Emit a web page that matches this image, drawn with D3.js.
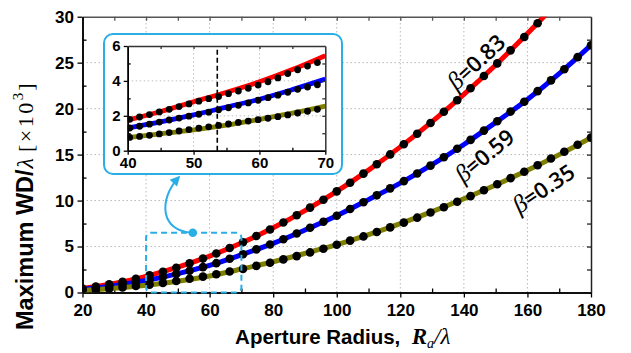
<!DOCTYPE html>
<html><head><meta charset="utf-8">
<script src="https://cdn.jsdelivr.net/npm/d3@7/dist/d3.min.js"></script>
<style>body{margin:0;background:#fff}svg{display:block}</style>
</head><body>
<svg id="c" width="631" height="353"></svg>
<script>
// ---------- data ----------
const xTicks = [20, 40, 60, 80, 100, 120, 140, 160, 180];
const yTicks = [0, 5, 10, 15, 20, 25, 30];
const insetXTicks = [40, 50, 60, 70];
const insetYTicks = [0, 2, 4, 6];

const lineX = [20, 30, 40, 50, 60, 70, 80, 90, 100, 110, 120, 130, 140, 150, 160, 170, 180];
const redLine   = [0.44, 0.99, 1.76, 2.75, 3.96, 5.39, 7.04, 8.91, 11.0, 13.31, 15.84, 18.59, 21.56, 24.75, 28.16, 31.79, 35.64];
const blueLine  = [0.35, 0.75, 1.3, 2.05, 2.95, 4.1, 5.35, 6.8, 8.35, 10.1, 11.9, 13.9, 16.1, 18.5, 21.0, 23.8, 26.9];
const oliveLine = [0.2, 0.45, 0.78, 1.22, 1.8, 2.55, 3.35, 4.25, 5.2, 6.3, 7.5, 8.8, 10.2, 11.7, 13.3, 15.0, 16.85];

const dotX = [20, 24.2, 28.4, 32.6, 36.8, 41.1, 45.3, 49.5, 53.7, 57.9, 62.1, 66.3, 70.5, 74.7, 79.0, 83.2, 87.4, 91.6, 95.8, 100,
  104.2, 108.4, 112.6, 116.8, 121.1, 125.3, 129.5, 133.7, 137.9, 142.1, 146.3, 150.5, 154.7, 159.0, 163.2, 167.4, 171.6, 175.8, 180];
const redDots = [0.44, 0.64, 0.89, 1.17, 1.49, 1.86, 2.26, 2.70, 3.17, 3.69, 4.24, 4.84, 5.47, 6.14, 6.86, 7.61, 8.40, 9.23, 10.09, 11.0,
  11.94, 12.93, 13.95, 15.02, 16.12, 17.26, 18.44, 19.66, 20.91, 22.21, 23.55, 24.92, 26.34, 27.79, 29.28, 30.8, 32.4, 34.0, 35.6];
const blueDots = [0.35, 0.52, 0.69, 0.89, 1.12, 1.38, 1.68, 2.01, 2.37, 2.76, 3.19, 3.67, 4.16, 4.69, 5.22, 5.80, 6.42, 7.04, 7.70, 8.35,
  9.08, 9.82, 10.57, 11.33, 12.11, 12.95, 13.8, 14.71, 15.64, 16.6, 17.61, 18.62, 19.68, 20.75, 21.9, 23.07, 24.28, 25.6, 26.9];
const oliveDots = [0.21, 0.31, 0.42, 0.55, 0.70, 0.86, 1.05, 1.25, 1.49, 1.73, 1.99, 2.28, 2.57, 2.9, 3.24, 3.6, 3.96, 4.36, 4.76, 5.2,
  5.64, 6.1, 6.58, 7.08, 7.6, 8.14, 8.7, 9.28, 9.87, 10.48, 11.12, 11.77, 12.44, 13.13, 13.84, 14.57, 15.31, 16.07, 16.85];

const insetLineX = [40, 45, 50, 55, 60, 65, 70];
const insetRedLine   = [1.75, 2.25, 2.8, 3.35, 3.95, 4.65, 5.45];
const insetBlueLine  = [1.3, 1.65, 2.05, 2.5, 2.95, 3.5, 4.1];
const insetOliveLine = [0.75, 0.97, 1.2, 1.47, 1.8, 2.15, 2.55];
const insetDotX = [40.3, 41.8, 43.3, 44.8, 46.3, 47.8, 49.3, 50.8, 52.3, 53.8, 55.3, 56.8, 58.3, 59.8, 61.3, 62.8, 64.3, 65.8, 67.3, 68.8];
const insetRedDots   = [1.80, 1.93, 2.07, 2.22, 2.37, 2.53, 2.68, 2.84, 2.98, 3.10, 3.27, 3.42, 3.58, 3.76, 3.95, 4.17, 4.42, 4.64, 4.85, 5.05];
const insetBlueDots  = [1.30, 1.40, 1.52, 1.64, 1.76, 1.87, 1.98, 2.09, 2.21, 2.34, 2.46, 2.60, 2.74, 2.89, 3.04, 3.18, 3.35, 3.52, 3.65, 3.78];
const insetOliveDots = [0.76, 0.82, 0.88, 0.96, 1.04, 1.13, 1.21, 1.29, 1.37, 1.45, 1.53, 1.62, 1.70, 1.78, 1.86, 1.95, 2.05, 2.16, 2.26, 2.37];
const insetMarkerX = 53.6;

const seriesNames = ["0.83", "0.59", "0.35"];
const seriesColors = ["#ff0000", "#0000ff", "#808000"];

// ---------- drawing ----------
const svg = d3.select("#c");
const SANS = "'Liberation Sans', Arial, sans-serif";
const SERIF = "'Liberation Serif', 'Times New Roman', serif";
const x = d3.scaleLinear([20, 180], [82.5, 591]);
const y = d3.scaleLinear([0, 30], [292.5, 16.7]);

const defs = svg.append("defs");
defs.append("clipPath").attr("id", "clipMain").append("rect")
  .attr("x", x(20)).attr("y", y(30)).attr("width", x(180) - x(20)).attr("height", y(0) - y(30));

const grid = svg.append("g").attr("stroke", "#b8b8b8").attr("stroke-width", 1).attr("stroke-dasharray", "1.5,2.5");
xTicks.slice(1, -1).forEach(v => grid.append("line").attr("x1", x(v)).attr("x2", x(v)).attr("y1", y(0)).attr("y2", y(30)));
yTicks.slice(1, -1).forEach(v => grid.append("line").attr("x1", x(20)).attr("x2", x(180)).attr("y1", y(v)).attr("y2", y(v)));

function styleAxis(g, color) {
  g.select(".domain").attr("stroke", color).attr("stroke-width", 1.5);
  g.selectAll(".tick line").attr("stroke", color).attr("stroke-width", 1.3);
  g.selectAll("text").attr("font-family", SANS).attr("font-weight", "bold").attr("fill", "#000");
}
const minorX = d3.range(30, 180, 20);
const minorY = d3.range(2.5, 30, 5);

// main axes
let g = svg.append("g").attr("transform", `translate(0,${y(0)})`)
  .call(d3.axisBottom(x).tickValues(minorX).tickSize(-4).tickSizeOuter(0).tickFormat(""));
styleAxis(g, "#000");
g = svg.append("g").attr("transform", `translate(0,${y(0)})`)
  .call(d3.axisBottom(x).tickValues(xTicks).tickSize(5).tickPadding(6).tickSizeOuter(0));
styleAxis(g, "#000"); g.selectAll("text").attr("font-size", 17);
g = svg.append("g").attr("transform", `translate(0,${y(30)})`)
  .call(d3.axisTop(x).tickValues(d3.range(30, 180, 10)).tickSize(-4).tickSizeOuter(0).tickFormat(""));
styleAxis(g, "#555");
g = svg.append("g").attr("transform", `translate(${x(180)},0)`)
  .call(d3.axisRight(y).tickValues(d3.range(2.5, 30, 2.5)).tickSize(-4).tickSizeOuter(0).tickFormat(""));
styleAxis(g, "#222");
g = svg.append("g").attr("transform", `translate(${x(20)},0)`)
  .call(d3.axisLeft(y).tickValues(minorY).tickSize(-4).tickSizeOuter(0).tickFormat(""));
styleAxis(g, "#000");
g = svg.append("g").attr("transform", `translate(${x(20)},0)`)
  .call(d3.axisLeft(y).tickValues(yTicks).tickSize(5).tickPadding(3.5).tickSizeOuter(0));
styleAxis(g, "#000"); g.selectAll("text").attr("font-size", 17);

// series
const mainG = svg.append("g").attr("clip-path", "url(#clipMain)");
const lines = [redLine, blueLine, oliveLine];
const dots = [redDots, blueDots, oliveDots];
const lineGen = (xs, sx, sy) => d3.line().x((d, i) => sx(xs[i])).y(d => sy(d)).curve(d3.curveCatmullRom);
lines.forEach((vals, s) => {
  mainG.append("path").datum(vals).attr("d", lineGen(lineX, x, y))
    .attr("fill", "none").attr("stroke", seriesColors[s]).attr("stroke-width", 5);
});
dots.forEach(vals => {
  mainG.selectAll(null).data(vals).enter().append("circle")
    .attr("cx", (d, i) => x(dotX[i])).attr("cy", d => y(d)).attr("r", 4.3).attr("fill", "#000");
});

// zoom rectangle annotation + connector
const cyan = "#2aaee6";
svg.append("rect").attr("x", x(40)).attr("y", y(6.5)).attr("width", x(70) - x(40)).attr("height", y(0) - y(6.5))
  .attr("rx", 5).attr("fill", "none").attr("stroke", cyan).attr("stroke-width", 2).attr("stroke-dasharray", "6,4");
const p0 = [x(54.7), y(6.5)], c1 = [x(44.4), y(6.6)], c2 = [x(43.8), y(10.1)], p3 = [x(50.3), y(12.55)];
svg.append("path").attr("d", `M${p0}C${c1} ${c2} ${p3}`).attr("fill", "none").attr("stroke", cyan).attr("stroke-width", 2);
svg.append("circle").attr("cx", p0[0]).attr("cy", p0[1]).attr("r", 4.3).attr("fill", cyan);
const ang = Math.atan2(p3[1] - c2[1], p3[0] - c2[0]) * 180 / Math.PI;
svg.append("path").attr("d", "M2,0 L-8,-5 L-8,5 Z").attr("fill", cyan)
  .attr("transform", `translate(${p3[0]},${p3[1]}) rotate(${ang})`);

// inset
const ix = d3.scaleLinear([40, 70], [127.7, 325.3]);
const iy = d3.scaleLinear([0, 6], [150.7, 46]);
svg.append("rect").attr("x", 104).attr("y", 34).attr("width", 238).attr("height", 140).attr("rx", 9)
  .attr("fill", "#fff").attr("stroke", cyan).attr("stroke-width", 2);
defs.append("clipPath").attr("id", "clipInset").append("rect")
  .attr("x", ix(40)).attr("y", iy(6)).attr("width", ix(70) - ix(40)).attr("height", iy(0) - iy(6));
const ig = svg.append("g").attr("stroke", "#c0c0c0").attr("stroke-width", 1).attr("stroke-dasharray", "1.5,2.5");
[50, 60].forEach(v => ig.append("line").attr("x1", ix(v)).attr("x2", ix(v)).attr("y1", iy(0)).attr("y2", iy(6)));
[2, 4].forEach(v => ig.append("line").attr("x1", ix(40)).attr("x2", ix(70)).attr("y1", iy(v)).attr("y2", iy(v)));

const insetG = svg.append("g").attr("clip-path", "url(#clipInset)");
[insetRedLine, insetBlueLine, insetOliveLine].forEach((vals, s) => {
  insetG.append("path").datum(vals).attr("d", lineGen(insetLineX, ix, iy))
    .attr("fill", "none").attr("stroke", seriesColors[s]).attr("stroke-width", 4.8);
});
[insetRedDots, insetBlueDots, insetOliveDots].forEach(vals => {
  insetG.selectAll(null).data(vals).enter().append("circle")
    .attr("cx", (d, i) => ix(insetDotX[i])).attr("cy", d => iy(d)).attr("r", 3.4).attr("fill", "#000");
});
svg.append("line").attr("x1", ix(insetMarkerX)).attr("x2", ix(insetMarkerX)).attr("y1", iy(0)).attr("y2", iy(6))
  .attr("stroke", "#000").attr("stroke-width", 1.6).attr("stroke-dasharray", "5,3");

const fmtInt = d3.format("d");
g = svg.append("g").attr("transform", `translate(0,${iy(0)})`)
  .call(d3.axisBottom(ix).tickValues([45, 55, 65]).tickSize(-3).tickSizeOuter(0).tickFormat(""));
styleAxis(g, "#000");
g = svg.append("g").attr("transform", `translate(0,${iy(0)})`)
  .call(d3.axisBottom(ix).tickValues(insetXTicks).tickSize(4).tickPadding(3).tickSizeOuter(0).tickFormat(fmtInt));
styleAxis(g, "#000"); g.selectAll("text").attr("font-size", 15);
g = svg.append("g").attr("transform", `translate(${ix(40)},0)`)
  .call(d3.axisLeft(iy).tickValues([1, 3, 5]).tickSize(-3).tickSizeOuter(0).tickFormat(""));
styleAxis(g, "#000");
g = svg.append("g").attr("transform", `translate(${ix(40)},0)`)
  .call(d3.axisLeft(iy).tickValues(insetYTicks).tickSize(4).tickPadding(3).tickSizeOuter(0).tickFormat(fmtInt));
styleAxis(g, "#000"); g.selectAll("text").attr("font-size", 15);
g = svg.append("g").attr("transform", `translate(0,${iy(6)})`)
  .call(d3.axisTop(ix).tickValues(d3.range(45, 70, 5)).tickSize(-3).tickSizeOuter(0).tickFormat(""));
styleAxis(g, "#333");
g = svg.append("g").attr("transform", `translate(${ix(70)},0)`)
  .call(d3.axisRight(iy).tickValues([1, 2, 3, 4, 5]).tickSizeOuter(0)).call(a => a.selectAll("text").remove());
g.selectAll(".tick line").attr("x2", -3);
styleAxis(g, "#333");

// curve labels
const labelPos = [[144.4, 24.9, -43], [147, 14.7, -40], [165.5, 11.1, -34]];
labelPos.forEach((p, s) => {
  const t = svg.append("text").attr("text-anchor", "middle")
    .attr("transform", `translate(${x(p[0])},${y(p[1])}) rotate(${p[2]})`).attr("dy", "0.35em").attr("fill", "#000");
  t.append("tspan").attr("font-family", SERIF).attr("font-style", "italic").attr("font-size", 25).text("β");
  t.append("tspan").attr("font-family", "'Open Sans', 'Liberation Sans', sans-serif").attr("font-weight", 600)
    .attr("font-size", 22).text("=" + seriesNames[s]);
});

// axis titles
const xt = svg.append("text").attr("x", (x(20) + x(180)) / 2 + 6).attr("y", 344).attr("text-anchor", "middle").attr("fill", "#000");
xt.append("tspan").attr("font-family", SANS).attr("font-weight", "bold").attr("font-size", 20.5).text("Aperture Radius,\u00a0\u00a0");
xt.append("tspan").attr("font-family", SERIF).attr("font-weight", "bold").attr("font-style", "italic").attr("font-size", 23).text("R");
xt.append("tspan").attr("font-family", SERIF).attr("font-style", "italic").attr("font-size", 14).attr("dy", 4).text("a");
xt.append("tspan").attr("font-family", SERIF).attr("font-style", "italic").attr("font-size", 23).attr("dy", -4).text("/λ");

const yt = svg.append("text").attr("transform", "translate(33,330) rotate(-90)").attr("text-anchor", "start").attr("fill", "#000");
yt.append("tspan").attr("font-family", SANS).attr("font-weight", "bold").attr("font-size", 23.5).text("Maximum WD/");
yt.append("tspan").attr("font-family", SERIF).attr("font-style", "italic").attr("font-size", 24).attr("dx", 1).text("λ");
yt.append("tspan").attr("font-family", SERIF).attr("font-size", 22).attr("letter-spacing", 2.5).attr("dx", 6).text("[×10");
yt.append("tspan").attr("font-family", SERIF).attr("font-size", 15).attr("dy", -10).text("3");
yt.append("tspan").attr("font-family", SERIF).attr("font-size", 22).attr("dy", 10).attr("dx", 2).text("]");
</script>
</body></html>
